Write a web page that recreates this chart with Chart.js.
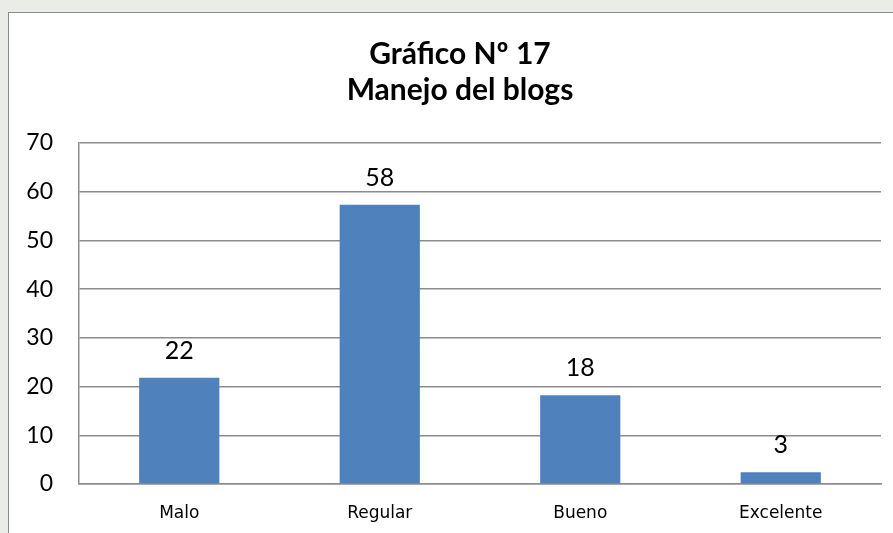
<!DOCTYPE html>
<html>
<head>
<meta charset="utf-8">
<script src="https://cdn.jsdelivr.net/npm/chart.js@4"></script>
<style>
  html, body { margin: 0; padding: 0; }
  body { width: 893px; height: 533px; overflow: hidden; background: #e9ece7; position: relative; }
  #frame {
    position: absolute; left: 8px; top: 12px; width: 920px; height: 540px;
    background: #ffffff; border: 1px solid #8a8a8a;
  }
  #grafico { position: absolute; left: 0; top: 0; }
</style>
</head>
<body>
<div id="frame"></div>
<canvas id="grafico" width="893" height="533"></canvas>
<script>
// Datos del gráfico
const categorias = ['Malo', 'Regular', 'Bueno', 'Excelente'];
const valores = [21.8, 57.3, 18.2, 2.4];       // altura de las barras
const etiquetasValor = ['22', '58', '18', '3']; // números mostrados encima de cada barra
const titulo = ['Gráfico Nº 17', 'Manejo del blogs'];
const ejeMax = 70;
const ejePaso = 10;

// Plugin sencillo para escribir el valor encima de cada barra
const etiquetasBarras = {
    id: 'etiquetasBarras',
    afterDatasetsDraw(chart) {
        const ctx = chart.ctx;
        const meta = chart.getDatasetMeta(0);
        ctx.save();
        ctx.font = '25px Lato';
        ctx.fillStyle = '#000';
        ctx.textAlign = 'center';
        ctx.textBaseline = 'middle';
        meta.data.forEach((bar, i) => {
            ctx.fillText(etiquetasValor[i], bar.x, bar.y - 27);
        });
        ctx.restore();
    }
};

// El título en el original está centrado sobre el recuadro, no sobre todo el lienzo
const centrarTitulo = {
    id: 'centrarTitulo',
    afterLayout(chart) {
        if (chart.titleBlock) chart.titleBlock.left = 39;
    }
};

const ctx = document.getElementById('grafico').getContext('2d');
new Chart(ctx, {
    type: 'bar',
    data: {
        labels: categorias,
        datasets: [{
            data: valores,
            backgroundColor: '#4f81bd',
            borderWidth: 0,
            categoryPercentage: 1,
            barPercentage: 0.4
        }]
    },
    options: {
        responsive: false,
        animation: false,
        layout: { padding: { left: 0, right: 12, top: 0, bottom: 0 } },
        plugins: {
            legend: { display: false },
            tooltip: { enabled: false },
            title: {
                display: true,
                text: titulo,
                color: '#000',
                font: { family: 'Lato', size: 30, weight: 'bold', lineHeight: 36 / 30 },
                padding: { top: 36, bottom: 35 }
            }
        },
        scales: {
            x: {
                grid: { display: false, drawTicks: false },
                border: { display: true, color: '#8c8c8c', width: 1.5 },
                ticks: { color: '#000', font: { family: 'DejaVu Sans', size: 17 }, padding: 19 },
                afterFit(scale) { scale.height = 49; }
            },
            y: {
                min: 0,
                max: ejeMax,
                grid: { color: '#8c8c8c', lineWidth: 1.5, drawTicks: false },
                border: { display: true, color: '#8c8c8c', width: 1.5 },
                ticks: { stepSize: ejePaso, color: '#000', font: { family: 'Lato', size: 23 }, padding: 26 },
                afterFit(scale) { scale.width = 79; }
            }
        }
    },
    plugins: [etiquetasBarras, centrarTitulo]
});
</script>
</body>
</html>
